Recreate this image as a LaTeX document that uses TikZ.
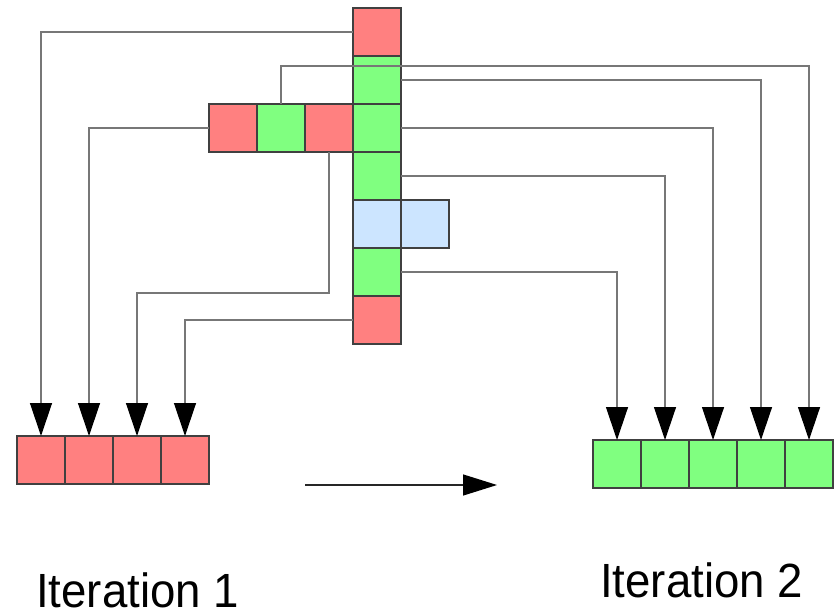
\documentclass[tikz,border=0pt]{standalone}
\usepackage{fontspec}
\setmainfont{Liberation Sans}
\usetikzlibrary{arrows.meta}
\definecolor{cred}{HTML}{FF8080}
\definecolor{cgreen}{HTML}{80FF80}
\definecolor{cblue}{HTML}{CCE5FF}
\definecolor{lin}{HTML}{777777}
\begin{document}
\begin{tikzpicture}[x=1pt,y=-1pt,
  cell/.style={draw=black!75,line width=1.1pt,minimum size=48pt,inner sep=0pt,outer sep=0pt},
  rc/.style={cell,fill=cred},
  gc/.style={cell,fill=cgreen},
  bc/.style={cell,fill=cblue},
  conn/.style={draw=lin,line width=1.3pt,-{Triangle[length=33pt,width=22pt,color=black]}},
  lbl/.style={font=\fontsize{48}{52}\selectfont,inner sep=0pt,anchor=base west,xscale=0.95}]
\useasboundingbox (0,0) rectangle (837,612);
% vertical column
\node[rc] (c1) at (377,32) {};
\node[gc] (c2) at (377,80) {};
\node[gc] (c3) at (377,128) {};
\node[gc] (c4) at (377,176) {};
\node[bc] (c5) at (377,224) {};
\node[bc] (b2) at (425,224) {};
\node[gc] (c6) at (377,272) {};
\node[rc] (c7) at (377,320) {};
% horizontal row
\node[rc] (h1) at (233,128) {};
\node[gc] (h2) at (281,128) {};
\node[rc] (h3) at (329,128) {};
% bottom left
\node[rc] (L1) at (41,460) {};
\node[rc] (L2) at (89,460) {};
\node[rc] (L3) at (137,460) {};
\node[rc] (L4) at (185,460) {};
% bottom right
\node[gc] (R1) at (617,464) {};
\node[gc] (R2) at (665,464) {};
\node[gc] (R3) at (713,464) {};
\node[gc] (R4) at (761,464) {};
\node[gc] (R5) at (809,464) {};
% connectors
\draw[conn] (c1.west) -| (L1.north);
\draw[conn] (h1.west) -| (L2.north);
\draw[conn] (h3.south) -- (329,293) -| (L3.north);
\draw[conn] (c7.west) -| (L4.north);
\draw[conn] (h2.north) -- (281,66) -| (R5.north);
\draw[conn] (c2.east) -| (R4.north);
\draw[conn] (c3.east) -| (R3.north);
\draw[conn] (c4.east) -| (R2.north);
\draw[conn] (c6.east) -| (R1.north);
% main arrow
\coordinate (a0) at (305,485);
\coordinate (a1) at (497,485);
\draw[draw=black!85,line width=1.3pt,-{Triangle[length=34pt,width=21pt,color=black]}] (a0) -- (a1);
% labels
\node[lbl] (t1) at (36,607) {Iteration 1};
\node[lbl] (t2) at (600,597) {Iteration 2};
\end{tikzpicture}
\end{document}
